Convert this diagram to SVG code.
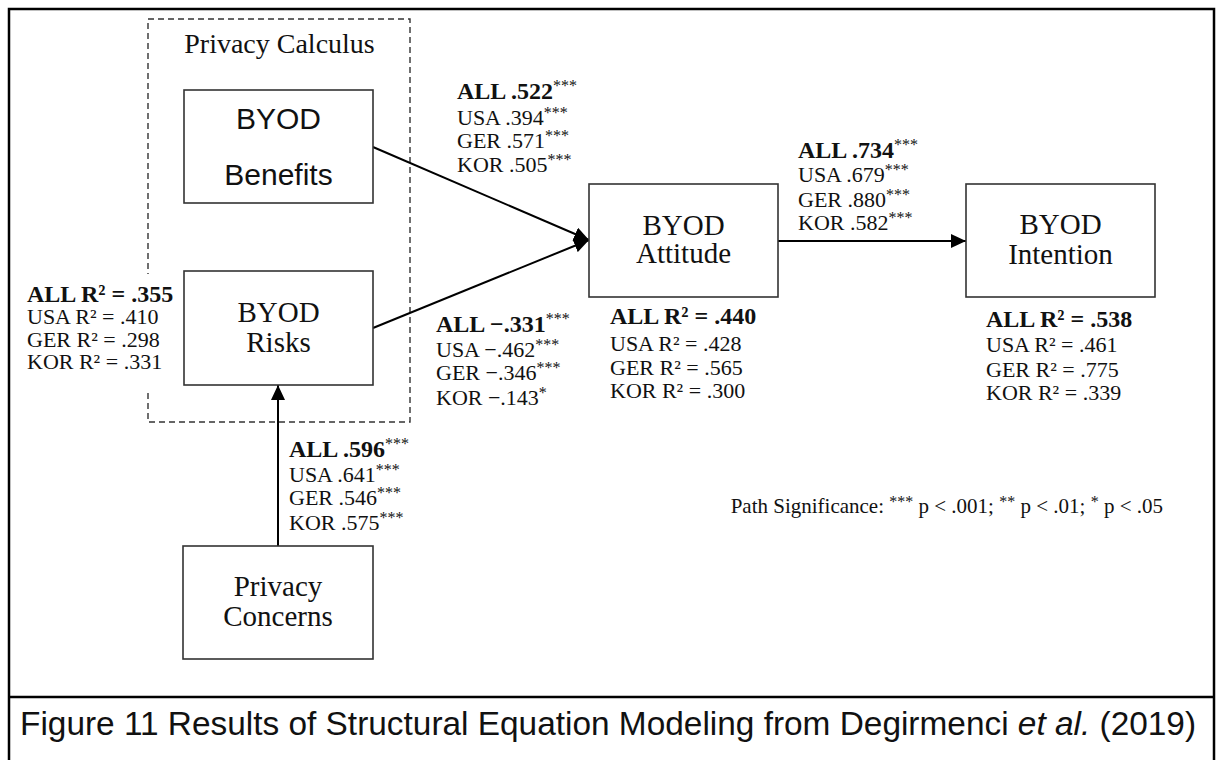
<svg xmlns="http://www.w3.org/2000/svg" width="1218" height="760" viewBox="0 0 1218 760">
  <style>
    .frame { fill: none; stroke: #000; stroke-width: 2.5; }
    .box { fill: #fff; stroke: #333; stroke-width: 1.6; }
    .group { fill: none; stroke: #333; stroke-width: 1.4; stroke-dasharray: 6 4; }
    .edge { fill: none; stroke: #000; stroke-width: 2; }
    .serif { font-family: "Liberation Serif", "DejaVu Serif", serif; fill: #111; }
    .sans { font-family: "Liberation Sans", Arial, sans-serif; fill: #111; }
    .title { font-size: 29px; }
    .lab { font-size: 22px; }
    .b { font-weight: bold; font-size: 24px; }
    .sup { font-size: 16px; font-weight: normal; }
    .cap { font-size: 33.4px; }
  </style>
  <defs>
    <marker id="arrow" markerUnits="userSpaceOnUse" markerWidth="16" markerHeight="14" refX="15" refY="7" orient="auto">
      <path d="M0,0 L15,7 L0,14 z" fill="#000"/>
    </marker>
  </defs>

  <rect fill="#fff" x="0" y="0" width="1218" height="760"/>

  <!-- outer frame and caption divider -->
  <rect class="frame" x="9" y="9" width="1205" height="760"/>
  <line class="frame" x1="9" y1="697" x2="1214" y2="697"/>

  <!-- privacy calculus grouping -->
  <g id="privacy-calculus">
    <rect class="group" x="148" y="19" width="262" height="403"/>
    <text class="serif" font-size="28" x="279.5" y="53" text-anchor="middle">Privacy Calculus</text>
  </g>

  <!-- connectors -->
  <g id="connectors">
    <line class="edge" x1="373" y1="147" x2="589" y2="240" marker-end="url(#arrow)"/>
    <line class="edge" x1="373" y1="328" x2="589" y2="240" marker-end="url(#arrow)"/>
    <line class="edge" x1="278" y1="546" x2="278" y2="385" marker-end="url(#arrow)"/>
    <line class="edge" x1="778" y1="241" x2="966" y2="241" marker-end="url(#arrow)"/>
  </g>

  <!-- nodes -->
  <g id="byod-benefits">
    <rect class="box" x="184" y="90" width="189" height="113"/>
    <text class="sans" font-size="30" x="278.5" y="129" text-anchor="middle">BYOD</text>
    <text class="sans" font-size="30" x="278.5" y="185" text-anchor="middle">Benefits</text>
  </g>

  <g id="byod-risks">
    <rect class="box" x="184" y="271" width="189" height="114"/>
    <text class="serif title" x="278.5" y="322" text-anchor="middle">BYOD</text>
    <text class="serif title" x="278.5" y="352" text-anchor="middle">Risks</text>
  </g>

  <g id="privacy-concerns">
    <rect class="box" x="183" y="546" width="190" height="113"/>
    <text class="serif title" x="278" y="596" text-anchor="middle">Privacy</text>
    <text class="serif title" x="278" y="626" text-anchor="middle">Concerns</text>
  </g>

  <g id="byod-attitude">
    <rect class="box" x="589" y="184" width="189" height="113"/>
    <text class="serif title" x="683.5" y="235" text-anchor="middle">BYOD</text>
    <text class="serif title" x="683.5" y="263" text-anchor="middle">Attitude</text>
  </g>

  <g id="byod-intention">
    <rect class="box" x="966" y="184" width="189" height="113"/>
    <text class="serif title" x="1060.5" y="234" text-anchor="middle">BYOD</text>
    <text class="serif title" x="1060.5" y="264" text-anchor="middle">Intention</text>
  </g>

  <!-- path coefficients -->
  <g id="coef-benefits-attitude" class="serif lab">
    <text class="b" x="457" y="99">ALL .522<tspan class="sup" dy="-8">***</tspan></text>
    <text x="457" y="125">USA .394<tspan class="sup" dy="-7">***</tspan></text>
    <text x="457" y="148">GER .571<tspan class="sup" dy="-7">***</tspan></text>
    <text x="457" y="172">KOR .505<tspan class="sup" dy="-7">***</tspan></text>
  </g>

  <g id="coef-attitude-intention" class="serif lab">
    <text class="b" x="798" y="158">ALL .734<tspan class="sup" dy="-8">***</tspan></text>
    <text x="798" y="182">USA .679<tspan class="sup" dy="-7">***</tspan></text>
    <text x="798" y="207">GER .880<tspan class="sup" dy="-7">***</tspan></text>
    <text x="798" y="230">KOR .582<tspan class="sup" dy="-7">***</tspan></text>
  </g>

  <g id="coef-risks-attitude" class="serif lab">
    <text class="b" x="436" y="332">ALL −.331<tspan class="sup" dy="-8">***</tspan></text>
    <text x="436" y="357">USA −.462<tspan class="sup" dy="-7">***</tspan></text>
    <text x="436" y="380">GER −.346<tspan class="sup" dy="-7">***</tspan></text>
    <text x="436" y="405">KOR −.143<tspan class="sup" dy="-7">*</tspan></text>
  </g>

  <g id="coef-concerns-risks" class="serif lab">
    <text class="b" x="289" y="457">ALL .596<tspan class="sup" dy="-8">***</tspan></text>
    <text x="289" y="482">USA .641<tspan class="sup" dy="-7">***</tspan></text>
    <text x="289" y="505">GER .546<tspan class="sup" dy="-7">***</tspan></text>
    <text x="289" y="530">KOR .575<tspan class="sup" dy="-7">***</tspan></text>
  </g>

  <!-- explained variance -->
  <g id="r2-risks" class="serif lab">
    <!-- backing that breaks the dashed border behind the block -->
    <rect fill="#fff" x="140" y="274" width="16" height="118"/>
    <text class="b" x="27" y="302">ALL R² = .355</text>
    <text x="27" y="324">USA R² = .410</text>
    <text x="27" y="347">GER R² = .298</text>
    <text x="27" y="369">KOR R² = .331</text>
  </g>

  <g id="r2-attitude" class="serif lab">
    <text class="b" x="610" y="324">ALL R² = .440</text>
    <text x="610" y="351">USA R² = .428</text>
    <text x="610" y="375">GER R² = .565</text>
    <text x="610" y="398">KOR R² = .300</text>
  </g>

  <g id="r2-intention" class="serif lab">
    <text class="b" x="986" y="327">ALL R² = .538</text>
    <text x="986" y="352">USA R² = .461</text>
    <text x="986" y="377">GER R² = .775</text>
    <text x="986" y="400">KOR R² = .339</text>
  </g>

  <!-- significance legend -->
  <text class="serif" font-size="21" x="1163" y="513" text-anchor="end">Path Significance: <tspan font-size="16" dy="-6">***</tspan><tspan dy="6"> p &lt; .001; </tspan><tspan font-size="16" dy="-6">**</tspan><tspan dy="6"> p &lt; .01; </tspan><tspan font-size="16" dy="-6">*</tspan><tspan dy="6"> p &lt; .05</tspan></text>

  <!-- caption -->
  <text class="sans cap" x="20" y="735">Figure 11 Results of Structural Equation Modeling from Degirmenci <tspan font-style="italic">et al.</tspan> (2019)</text>
</svg>
